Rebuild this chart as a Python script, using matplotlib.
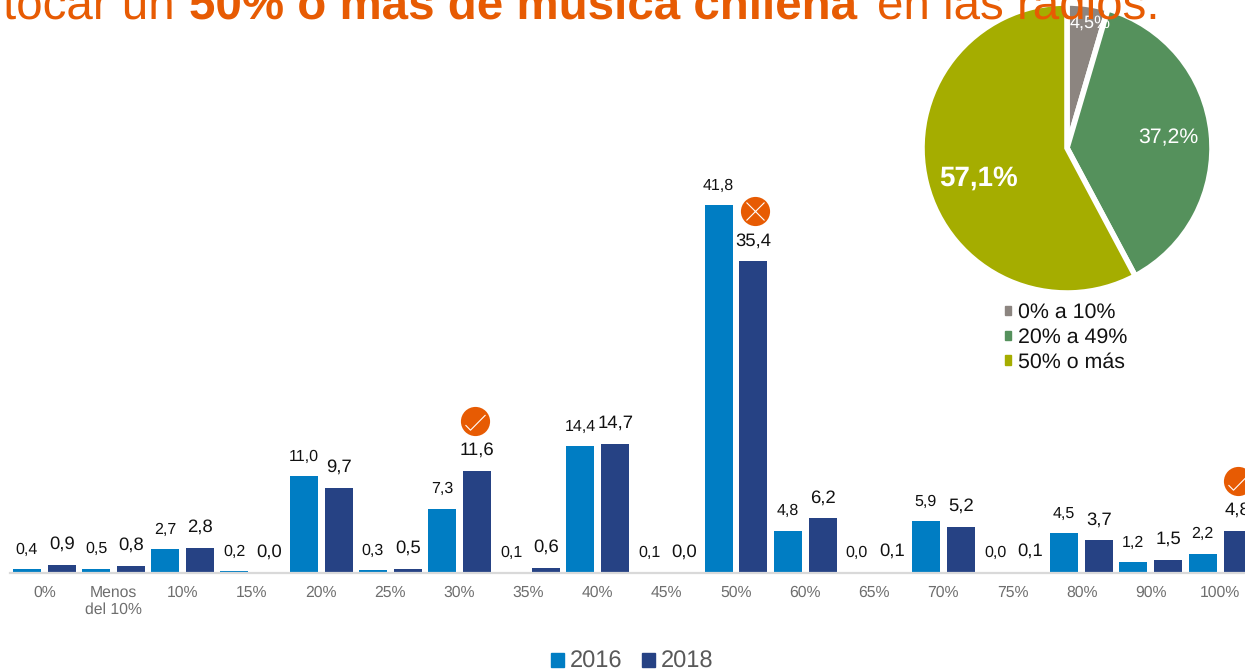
import matplotlib
matplotlib.use('Agg')
import numpy as np
import matplotlib.pyplot as plt
from matplotlib.patches import Patch
from matplotlib.path import Path

W, H = 1245, 671

plt.rcParams['font.family'] = ['Liberation Sans', 'DejaVu Sans']
plt.rcParams['text.hinting'] = 'no_hinting'

categories = ['0%', 'Menos\ndel 10%', '10%', '15%', '20%', '25%', '30%', '35%', '40%',
              '45%', '50%', '60%', '65%', '70%', '75%', '80%', '90%', '100%']
vals_2016 = [0.4, 0.5, 2.7, 0.2, 11.0, 0.3, 7.3, 0.1, 14.4, 0.1, 41.8, 4.8, 0.0, 5.9, 0.0, 4.5, 1.2, 2.2]
vals_2018 = [0.9, 0.8, 2.8, 0.0, 9.7, 0.5, 11.6, 0.6, 14.7, 0.0, 35.4, 6.2, 0.1, 5.2, 0.1, 3.7, 1.5, 4.8]

pie_labels = ['0% a 10%', '20% a 49%', '50% o más']
pie_vals = [4.5, 37.2, 57.1]

check_groups = [6, 17]
cross_groups = [10]

BLUE = '#007DC3'
NAVY = '#264284'
ORANGE = '#E75B03'
PIE_COLORS = ['#8C8580', '#55915C', '#A5AD00']


def fmt(v):
    return '{:.1f}'.format(v).replace('.', ',')


fig = plt.figure(figsize=(W / 100, H / 100), dpi=100)

# headline, it sits on top of the pie
title_parts = [('tocar un', 'normal', 3), ('50% o más de música chilena', 'bold', 189), ('en las radios.', 'normal', 877)]
for txt, weight, x0 in title_parts:
    fig.text(x0 / W, 1 - 18.5 / H, txt, fontsize=34.2, fontweight=weight, color=ORANGE,
             ha='left', va='baseline', zorder=5)

# bars
left, right, base, top = 10, W, 573, 151
ax = fig.add_axes([left / W, 1 - base / H, (right - left) / W, (base - top) / H])
ax.patch.set_alpha(0)
x = np.arange(len(categories))
ax.set_xlim((left - 44.5) / 69.15, (right - 44.5) / 69.15)
ax.set_ylim(0, (base - top) / 8.8)
off = 0.253
bw = 0.405
ax.bar(x - off, vals_2016, bw, color=BLUE, label='2016')
ax.bar(x + off, vals_2018, bw, color=NAVY, label='2018')
for xi, v in zip(x - off, vals_2016):
    ax.annotate(fmt(v), (xi, v), xytext=(0, 14.2), textcoords='offset points', ha='center',
                va='center', fontsize=11.5, color='#111111', annotation_clip=False)
for xi, v in zip(x + off, vals_2018):
    ax.annotate(fmt(v), (xi, v), xytext=(0, 15), textcoords='offset points', ha='center',
                va='center', fontsize=13.3, color='#111111', annotation_clip=False)

ax.set_xticks(x, categories)
ax.tick_params(axis='x', length=0, pad=8.5, labelsize=11.3, labelcolor='#6E6E6E')
ax.set_yticks([])
for s in ['top', 'left', 'right']:
    ax.spines[s].set_visible(False)
ax.spines['bottom'].set_color('#D9D9D9')
ax.spines['bottom'].set_linewidth(1.6)

# orange badges above some 2018 bars
badge_dy = 50 / 8.8
badge_dx = {6: -2 / 69.15, 10: 2 / 69.15, 17: 0}
check = Path([(-10, -3.6), (-5, -8.7), (10, 6.5)], [Path.MOVETO, Path.LINETO, Path.LINETO])
for g in check_groups + cross_groups:
    ax.plot(x[g] + off + badge_dx[g], vals_2018[g] + badge_dy, 'o', ms=21, color=ORANGE, mew=0, clip_on=False, zorder=4)
for g in check_groups:
    ax.plot(x[g] + off + badge_dx[g], vals_2018[g] + badge_dy, marker=check, ms=14.4, mfc='none', mec='white',
            mew=0.8, clip_on=False, zorder=5)
for g in cross_groups:
    ax.plot(x[g] + off + badge_dx[g], vals_2018[g] + badge_dy, 'x', ms=13, mec='white', mew=0.8, clip_on=False, zorder=5)

fig.legend(handles=[Patch(color=BLUE, label='2016'), Patch(color=NAVY, label='2018')], ncol=2,
           loc='center', bbox_to_anchor=(632 / W, 1 - 662 / H), frameon=False, fontsize=17,
           labelcolor='#595959', handlelength=0.55, handleheight=0.55, handletextpad=0.25,
           columnspacing=0.84, borderpad=0, borderaxespad=0)

# pie
cx, cy, r = 1067, 148, 145
pad = 1.03
ax2 = fig.add_axes([(cx - r * pad) / W, 1 - (cy + r * pad) / H, 2 * r * pad / W, 2 * r * pad / H], zorder=3)
ax2.patch.set_alpha(0)
ax2.pie(pie_vals, colors=PIE_COLORS, startangle=90, counterclock=False, radius=1,
        wedgeprops={'edgecolor': 'white', 'linewidth': 4})
ax2.set_xlim(-pad, pad)
ax2.set_ylim(-pad, pad)
ax2.text(0.16, 0.86, fmt(pie_vals[0]) + '%', color='white', fontsize=13, ha='center', va='center')
ax2.text(0.70, 0.07, fmt(pie_vals[1]) + '%', color='white', fontsize=15.3, ha='center', va='center')
ax2.text(-0.61, -0.21, fmt(pie_vals[2]) + '%', color='white', fontsize=20, fontweight='bold', ha='center', va='center')

fig.legend(handles=[Patch(color=c, label=l) for c, l in zip(PIE_COLORS, pie_labels)],
           loc='upper left', bbox_to_anchor=(1005 / W, 1 - 303 / H), frameon=False, fontsize=15.4,
           labelcolor='#111111', handlelength=0.3, handleheight=0.3, handletextpad=0.31,
           labelspacing=0.24, borderpad=0, borderaxespad=0)

fig.savefig('out.png', dpi=100)
